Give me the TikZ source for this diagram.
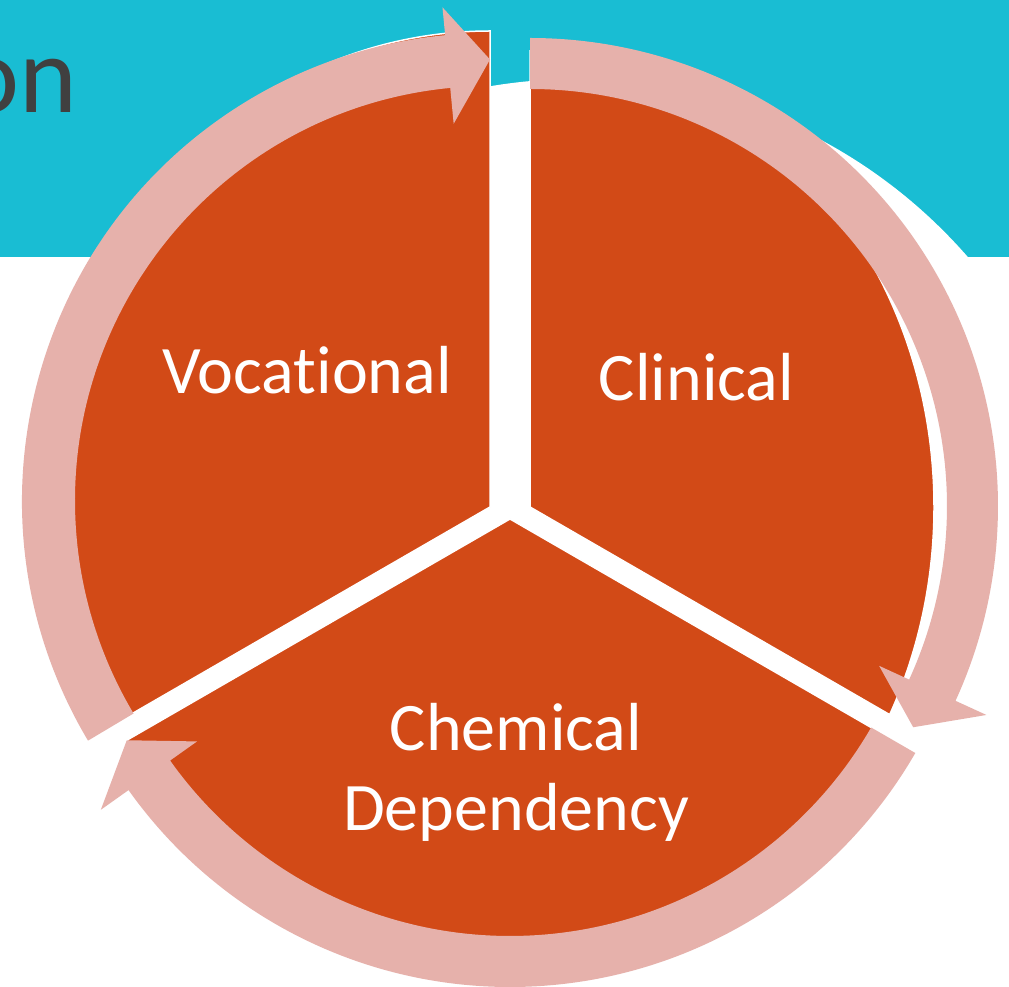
\documentclass[tikz,border=0pt]{standalone}
\usepackage{fontspec}
\setmainfont[Ligatures=NoCommon]{Carlito}
\definecolor{tealc}{HTML}{19BDD3}
\definecolor{orangec}{HTML}{D24A17}
\definecolor{pinkc}{HTML}{E6B1AB}
\definecolor{grayc}{HTML}{404040}
\begin{document}
\begin{tikzpicture}[x=1pt,y=1pt,
  wedge/.style={fill=orangec, draw=white, line width=1.5pt},
  pinkarrow/.style={fill=pinkc},
  lbl/.style={text=white, font=\fontsize{68}{80}\selectfont, inner sep=0pt}]
\useasboundingbox (0,0) rectangle (1009,986);
\fill[white] (0,0) rectangle (1009,986);
\fill[tealc] (0,729) rectangle (1009,986);
\fill[white] (577,389) circle[radius=518];
\node[anchor=base east, text=grayc, font=\fontsize{110}{120}\selectfont, inner sep=0pt] (title) at (78,873) {on};
% wedges
\path[wedge] (490,479) -- ++(0,476) arc[start angle=90, end angle={180+atan(446/476*tan(30))}, x radius=446, y radius=476] -- cycle;
\path[wedge] (530,479) -- ++(0,456) arc[start angle=90, end angle={-atan(404/456*tan(30))}, x radius=404, y radius=456] -- cycle;
\path[wedge] (510,467) -- ++(210:442) arc[start angle=210, end angle=330, radius=442] -- cycle;
% circular arrows
\fill[pinkarrow, shift={(490,485)}] (210.8:468) arc[start angle=210.8, end angle=95.5, radius=468] -- (95.5:496) -- (90:441.5) -- (95.5:379) -- (95.5:415) arc[start angle=95.5, end angle=210.8, radius=415] -- cycle;
\fill[pinkarrow, shift={(530,480)}] (90:468) arc[start angle=90, end angle=-24.6, radius=468] -- (-24.6:502) -- (-30:442.5) -- (-24.6:384) -- (-24.6:417) arc[start angle=-24.6, end angle=90, radius=417] -- cycle;
\fill[pinkarrow, shift={(510,467)}] (-30:468) arc[start angle=-30, end angle=-144.6, radius=468] -- (-144.6:502) -- (-150:442.5) -- (-144.6:384) -- (-144.6:417) arc[start angle=-144.6, end angle=-30, radius=417] -- cycle;
% labels
\node[lbl, anchor=base] (voc) at (307,592) {Vocational};
\node[lbl, anchor=base] (cli) at (696.5,585) {Clinical};
\node[lbl, anchor=base, align=center] (chem) at (516,156) {Chemical\\Dependency};
\end{tikzpicture}
\end{document}
